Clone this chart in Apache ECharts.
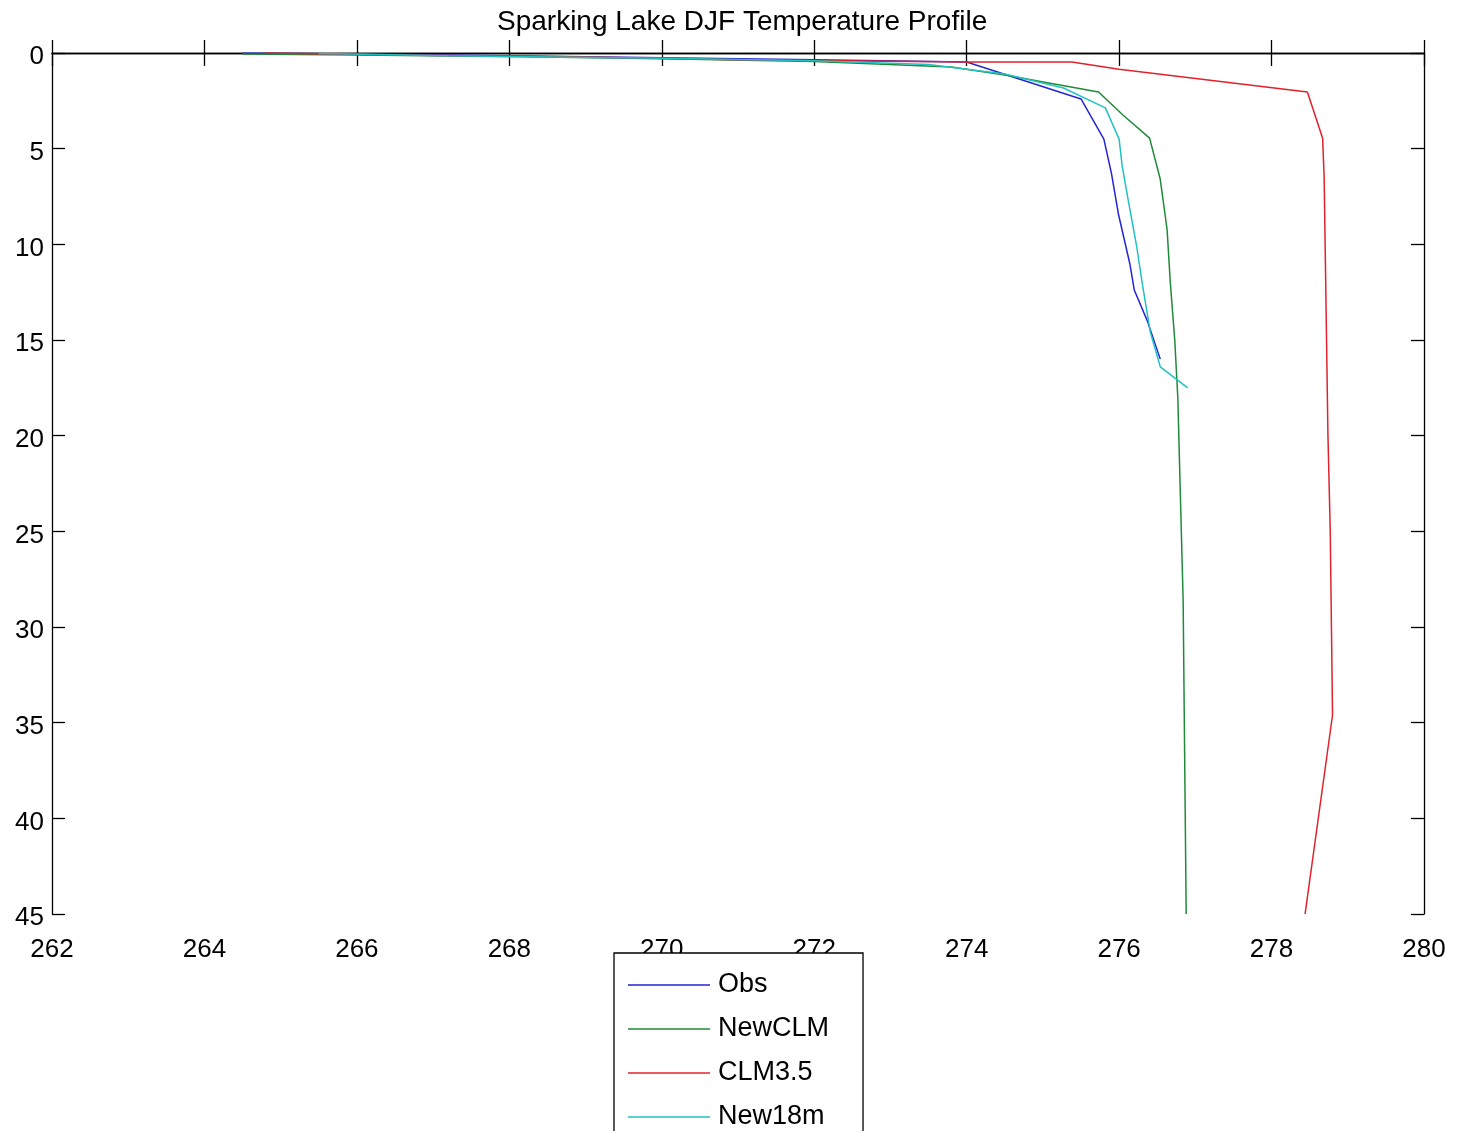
<!DOCTYPE html>
<html>
<head>
<meta charset="utf-8">
<script src="https://cdn.jsdelivr.net/npm/echarts@6/dist/echarts.min.js"></script>
<style>
  html, body { margin: 0; padding: 0; background: #fff; }
  #chart { width: 1457px; height: 1131px; }
</style>
</head>
<body>
<div id="chart"></div>
<script>
// Winter (DJF) lake temperature profiles: [temperature K, depth m]
const obs = [
  [264.5, 0.0], [266.0, 0.05], [268.0, 0.15], [270.0, 0.25], [272.0, 0.35],
  [274.0, 0.47], [275.5, 2.4], [275.8, 4.5], [275.9, 6.3], [275.99, 8.4],
  [276.14, 11.0], [276.2, 12.4], [276.37, 14.0], [276.54, 16.0]
];
const newCLM = [
  [264.5, 0.05], [266.0, 0.1], [268.2, 0.2], [270.0, 0.3], [272.0, 0.45],
  [273.8, 0.73], [274.5, 1.15], [275.73, 2.04], [276.05, 3.24], [276.4, 4.45],
  [276.54, 6.6], [276.63, 9.25], [276.67, 11.9], [276.73, 15.0], [276.77, 18.0],
  [276.84, 28.6], [276.88, 45.0]
];
const clm35 = [
  [264.8, 0.0], [266.5, 0.1], [268.8, 0.2], [271.0, 0.35], [274.0, 0.47],
  [275.38, 0.47], [276.0, 0.85], [278.47, 2.04], [278.67, 4.45], [278.69, 6.5],
  [278.74, 20.0], [278.77, 25.0], [278.8, 34.6], [278.44, 45.0]
];
const new18m = [
  [265.5, 0.02], [267.2, 0.15], [270.0, 0.28], [272.0, 0.4], [273.5, 0.6],
  [274.5, 1.1], [275.27, 1.83], [275.82, 2.87], [276.0, 4.5], [276.04, 5.9],
  [276.12, 7.7], [276.23, 10.1], [276.31, 12.2], [276.41, 14.6], [276.54, 16.4],
  [276.9, 17.5]
];

const seriesNames = ['Obs', 'NewCLM', 'CLM3.5', 'New18m'];
const seriesData = [obs, newCLM, clm35, new18m];
const seriesColors = ['#2424d8', '#1f8a3a', '#e0222c', '#22c2c2'];

const FONT = 'Liberation Sans, Arial, sans-serif';

const chart = echarts.init(document.getElementById('chart'), null, { renderer: 'canvas' });

const axisLine = { show: true, lineStyle: { color: '#000', width: 1.3 } };
const axisTick = { show: true, inside: true, length: 13, lineStyle: { color: '#000', width: 1.3 } };

chart.setOption({
  animation: false,
  backgroundColor: '#fff',
  title: {
    text: 'Sparking Lake DJF Temperature Profile',
    left: 492,
    top: 3,
    textStyle: { fontFamily: FONT, fontSize: 28, fontWeight: 'normal', color: '#000' }
  },
  grid: { left: 52, right: 33, top: 53, bottom: 217, containLabel: false },
  legend: {
    data: seriesNames,
    orient: 'vertical',
    left: 614,
    top: 953,
    height: 300,
    padding: [18, 34, 40, 14],
    icon: 'rect',
    itemWidth: 82,
    itemHeight: 1.5,
    itemGap: 16,
    backgroundColor: '#fff',
    borderColor: '#000',
    borderWidth: 1.3,
    borderRadius: 0,
    textStyle: { fontFamily: FONT, fontSize: 27, color: '#000', lineHeight: 28, padding: [0, 0, 0, 3] }
  },
  xAxis: [
    {
      type: 'value', min: 262, max: 280, interval: 2, position: 'bottom',
      axisLine, axisTick,
      splitLine: { show: false },
      axisLabel: { fontFamily: FONT, fontSize: 26, color: '#000', margin: 23 }
    },
    {
      type: 'value', min: 262, max: 280, interval: 2, position: 'top',
      axisLine, axisTick,
      splitLine: { show: false },
      axisLabel: { show: false }
    }
  ],
  yAxis: [
    {
      type: 'value', min: 0, max: 45, interval: 5, inverse: true, position: 'left',
      axisLine, axisTick,
      splitLine: { show: false },
      axisLabel: {
        fontFamily: FONT, fontSize: 26, color: '#000', margin: 8,
        verticalAlign: 'top', lineHeight: 8
      }
    },
    {
      type: 'value', min: 0, max: 45, interval: 5, inverse: true, position: 'right',
      axisLine, axisTick,
      splitLine: { show: false },
      axisLabel: { show: false }
    }
  ],
  series: seriesNames.map((name, i) => ({
    name,
    type: 'line',
    data: seriesData[i],
    xAxisIndex: 0,
    yAxisIndex: 0,
    symbol: 'none',
    color: seriesColors[i],
    lineStyle: { color: seriesColors[i], width: 1.5 },
    z: 2 + i
  }))
});
</script>
</body>
</html>
